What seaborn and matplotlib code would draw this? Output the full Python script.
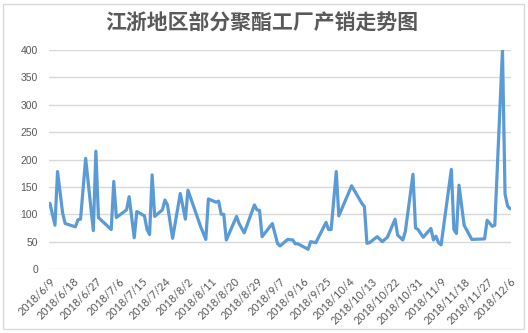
import matplotlib
matplotlib.use("Agg")
import matplotlib.pyplot as plt
from matplotlib.patches import Rectangle
import pandas as pd
import seaborn as sns

# 产销率 (%) by date
dates = [
    "2018-06-09", "2018-06-11", "2018-06-12", "2018-06-14", "2018-06-15",
    "2018-06-19", "2018-06-20", "2018-06-21", "2018-06-23", "2018-06-26",
    "2018-06-27", "2018-06-28", "2018-07-03", "2018-07-04", "2018-07-05",
    "2018-07-09", "2018-07-10", "2018-07-12", "2018-07-13", "2018-07-16",
    "2018-07-17", "2018-07-18", "2018-07-19", "2018-07-20", "2018-07-23",
    "2018-07-24", "2018-07-25", "2018-07-27", "2018-07-30", "2018-08-01",
    "2018-08-02", "2018-08-07", "2018-08-09", "2018-08-10", "2018-08-12",
    "2018-08-13", "2018-08-14", "2018-08-15", "2018-08-16", "2018-08-17",
    "2018-08-21", "2018-08-22", "2018-08-24", "2018-08-28", "2018-08-29",
    "2018-08-30", "2018-08-31", "2018-09-04", "2018-09-06", "2018-09-07",
    "2018-09-10", "2018-09-12", "2018-09-13", "2018-09-14", "2018-09-18",
    "2018-09-19", "2018-09-21", "2018-09-25", "2018-09-26", "2018-09-27",
    "2018-09-29", "2018-09-30", "2018-10-05", "2018-10-09", "2018-10-10",
    "2018-10-11", "2018-10-12", "2018-10-15", "2018-10-17", "2018-10-19",
    "2018-10-22", "2018-10-23", "2018-10-25", "2018-10-26", "2018-10-29",
    "2018-10-30", "2018-10-31", "2018-11-02", "2018-11-05", "2018-11-06",
    "2018-11-07", "2018-11-08", "2018-11-09", "2018-11-13", "2018-11-14",
    "2018-11-15", "2018-11-16", "2018-11-18", "2018-11-21", "2018-11-26",
    "2018-11-27", "2018-11-29", "2018-11-30", "2018-12-03", "2018-12-04",
    "2018-12-05", "2018-12-06",
]
values = [
    120, 80, 178, 102, 83,
    77, 90, 91, 202, 70,
    215, 94, 72, 160, 94,
    108, 132, 57, 105, 97,
    72, 63, 172, 96, 108,
    126, 117, 56, 138, 91,
    144, 77, 54, 128, 124,
    122, 124, 100, 100, 53,
    96, 83, 66, 117, 108,
    107, 59, 83, 47, 42,
    54, 53, 46, 46, 36,
    50, 48, 85, 72, 72,
    178, 97, 152, 120, 114,
    47, 48, 59, 50, 58,
    91, 62, 53, 68, 173,
    75, 72, 58, 74, 53,
    60, 48, 44, 182, 72,
    65, 153, 80, 54, 55,
    89, 78, 80, 400, 137,
    115, 110,
]
tick_labels = [
    "2018/6/9", "2018/6/18", "2018/6/27", "2018/7/6", "2018/7/15",
    "2018/7/24", "2018/8/2", "2018/8/11", "2018/8/20", "2018/8/29",
    "2018/9/7", "2018/9/16", "2018/9/25", "2018/10/4", "2018/10/13",
    "2018/10/22", "2018/10/31", "2018/11/9", "2018/11/18", "2018/11/27",
    "2018/12/6",
]
y_ticks = [0, 50, 100, 150, 200, 250, 300, 350, 400]
title = "江浙地区部分聚酯工厂产销走势图"

GREY = "#595959"
GRID = "#d9d9d9"
BLUE = "#5b9bd5"

sns.set_style("white")
plt.rcParams["font.family"] = ["Lato", "DejaVu Sans"]

df = pd.DataFrame({"date": pd.to_datetime(dates), "value": values})
tick_dates = pd.to_datetime(tick_labels, format="%Y/%m/%d")

fig = plt.figure(figsize=(5.28, 3.33), dpi=100)
fig.patch.set_facecolor("white")
ax = fig.add_axes([49 / 528, 1 - 269 / 333, 462 / 528, 219 / 333])

sns.lineplot(data=df, x="date", y="value", ax=ax, color=BLUE,
             linewidth=2.3, solid_joinstyle="round")

ax.set_ylim(0, 400)
ax.set_yticks(y_ticks)
ax.set_yticklabels([str(v) for v in y_ticks], fontsize=7.5, color=GREY,
                   family=["Liberation Sans", "DejaVu Sans"])
ax.set_xlim(tick_dates[0] - pd.Timedelta(hours=8),
            tick_dates[-1] + pd.Timedelta(hours=8))
ax.set_xticks(tick_dates)
ax.set_xticklabels(tick_labels, fontsize=7.8, color=GREY, rotation=45,
                   ha="right", va="top", rotation_mode="anchor")
ax.tick_params(axis="both", length=0)
ax.tick_params(axis="y", pad=8)
ax.tick_params(axis="x", pad=5)
ax.set_xlabel("")
ax.set_ylabel("")
ax.grid(axis="y", color=GRID, linewidth=1)
ax.grid(axis="x", visible=False)
ax.set_axisbelow(True)
for side in ["top", "right", "left", "bottom"]:
    ax.spines[side].set_visible(False)

fig.text(262 / 528, 1 - 23 / 333, title, ha="center", va="center",
         fontsize=15, fontweight="bold", color=GREY,
         family=["Noto Sans CJK SC", "DejaVu Sans"])

# chart-area frame
fig.patches.append(Rectangle((3 / 528, 4 / 333), 521 / 528, 325 / 333,
                             transform=fig.transFigure, fill=False,
                             edgecolor=GRID, linewidth=1))

fig.savefig("out.png", dpi=100, facecolor="white")
